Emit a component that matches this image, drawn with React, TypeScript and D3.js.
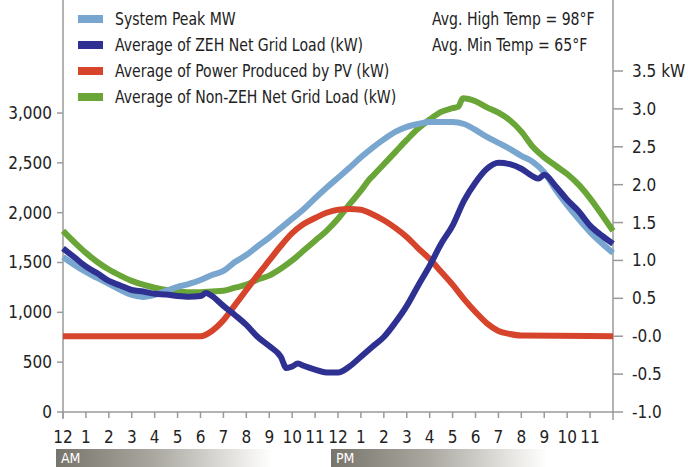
import React, { useEffect } from "react";
import * as d3 from "d3";

// hours since midnight; each series has its own sample times so kinks can be kept
const peakHours = d3.range(0, 24.01, 0.5);
const peakMW = [
  1555, 1475, 1405, 1345, 1285, 1225, 1175, 1155, 1175, 1215, 1255, 1285, 1325,
  1375, 1415, 1505, 1575, 1665, 1750, 1845, 1940, 2035, 2145, 2250, 2350, 2450,
  2555, 2650, 2735, 2810, 2860, 2890, 2910, 2910, 2910, 2890, 2830, 2760, 2700,
  2640, 2570, 2510, 2405, 2230, 2075, 1935, 1805, 1695, 1595,
];

const zehHours = [
  0, 0.5, 1, 1.5, 2, 2.5, 3, 3.5, 4, 4.5, 5, 5.5, 6, 6.25, 6.5, 7, 7.5, 8, 8.5,
  9, 9.5, 9.75, 10, 10.25, 10.5, 11, 11.5, 12, 12.5, 13, 13.5, 14, 14.5, 15,
  15.5, 16, 16.5, 17, 17.5, 18, 18.5, 19, 19.5, 20, 20.5, 20.75, 21, 21.5, 22,
  22.5, 23, 23.5, 24,
];
const zehKW = [
  1.16, 1.04, 0.92, 0.83, 0.73, 0.67, 0.61, 0.59, 0.56, 0.55, 0.53, 0.52, 0.53,
  0.57, 0.53, 0.4, 0.28, 0.15, -0.01, -0.13, -0.27, -0.42, -0.4, -0.36, -0.39,
  -0.44, -0.48, -0.48, -0.4, -0.27, -0.14, -0.01, 0.18, 0.4, 0.67, 0.93, 1.22,
  1.46, 1.79, 2.03, 2.21, 2.29, 2.27, 2.21, 2.11, 2.08, 2.13, 1.98, 1.8, 1.65,
  1.46, 1.33, 1.22,
];

const pvHours = [
  0, 6, 6.5, 7, 7.5, 8, 8.5, 9, 9.5, 10, 10.5, 11, 11.5, 12, 12.5, 13, 13.5, 14,
  14.5, 15, 15.5, 16, 16.5, 17, 17.5, 18, 18.5, 19, 19.5, 20, 24,
];
const pvKW = [
  0, 0, 0.07, 0.21, 0.41, 0.61, 0.81, 1.0, 1.19, 1.36, 1.48, 1.56, 1.63, 1.67,
  1.68, 1.67, 1.61, 1.53, 1.43, 1.31, 1.16, 1.02, 0.85, 0.68, 0.49, 0.32, 0.17,
  0.07, 0.03, 0.01, 0,
];

const nonZehHours = [
  0, 0.5, 1, 1.5, 2, 2.5, 3, 3.5, 4, 4.5, 5, 5.5, 6, 6.5, 7, 7.5, 8, 8.5, 9, 9.5,
  10, 10.5, 11, 11.5, 12, 12.5, 13, 13.4, 13.5, 14, 14.5, 15, 15.5, 16, 16.5,
  17, 17.25, 17.45, 18, 18.5, 19, 19.5, 20, 20.5, 21, 21.5, 22, 22.5, 23, 23.5,
  24,
];
const nonZehKW = [
  1.39, 1.24, 1.1, 0.98, 0.88, 0.8, 0.73, 0.68, 0.64, 0.61, 0.59, 0.58, 0.58,
  0.59, 0.6, 0.64, 0.68, 0.75, 0.8, 0.89, 1.0, 1.13, 1.26, 1.39, 1.55, 1.74,
  1.92, 2.08, 2.11, 2.27, 2.43, 2.59, 2.74, 2.86, 2.96, 3.01, 3.03, 3.14, 3.1,
  3.02, 2.95, 2.85, 2.7, 2.5, 2.36, 2.25, 2.14, 2.0, 1.82, 1.61, 1.39,
];

const legendLabels = [
  "System Peak MW",
  "Average of ZEH Net Grid Load (kW)",
  "Average of Power Produced by PV (kW)",
  "Average of Non-ZEH Net Grid Load (kW)",
];
const tempNotes = ["Avg. High Temp = 98°F", "Avg. Min Temp = 65°F"];
const leftTicks = [0, 500, 1000, 1500, 2000, 2500, 3000];
const rightTicks = [-1, -0.5, 0, 0.5, 1, 1.5, 2, 2.5, 3, 3.5];
const rightTickLabels = ["-1.0", "-0.5", "-0.0", "0.5", "1.0", "1.5", "2.0", "2.5", "3.0", "3.5 kW"];
const hourLabels = ["12", "1", "2", "3", "4", "5", "6", "7", "8", "9", "10", "11"];

const COLORS = ["#78a6cf", "#2e3192", "#d6452b", "#6aa637"];
const FONT = "'Liberation Sans Narrow', 'DejaVu Sans Condensed', 'Roboto', sans-serif";
const AXIS = "#9a9a9a";
const NARROW = 0.92; // squeeze the long labels a bit, the original face is condensed

export default function App() {
  useEffect(() => {
    document.body.style.margin = "0";
  }, []);

  const width = 688;
  const height = 467;
  const x = d3.scaleLinear().domain([0, 24]).range([63, 613]);
  const yLeft = d3.scaleLinear().domain([0, 3000]).range([412, 113]);
  const yRight = d3.scaleLinear().domain([-1, 3.5]).range([412, 71]);

  const lineFor = (hours: number[], vals: number[], y: d3.ScaleLinear<number, number>) =>
    d3
      .line<number>()
      .x((_, i) => x(hours[i]))
      .y((v) => y(v))
      .curve(d3.curveMonotoneX)(vals) || "";

  const series = [
    { d: lineFor(nonZehHours, nonZehKW, yRight), color: COLORS[3] },
    { d: lineFor(pvHours, pvKW, yRight), color: COLORS[2] },
    { d: lineFor(peakHours, peakMW, yLeft), color: COLORS[0] },
    { d: lineFor(zehHours, zehKW, yRight), color: COLORS[1] },
  ];

  const axisBottom = yLeft(0);
  const hourTicks = d3.range(0, 24);

  return (
    <svg width={width} height={height} style={{ display: "block", fontFamily: FONT }}>
      <defs>
        <linearGradient id="dayfade" x1="0" x2="1" y1="0" y2="0">
          <stop offset="0%" stopColor="#77746b" />
          <stop offset="45%" stopColor="#a9a79f" />
          <stop offset="85%" stopColor="#e9e8e5" />
          <stop offset="100%" stopColor="#ffffff" />
        </linearGradient>
      </defs>

      {/* axes */}
      <line x1={x(0)} x2={x(0)} y1={0} y2={axisBottom + 7} stroke={AXIS} strokeWidth={1.5} />
      <line x1={x(24)} x2={x(24)} y1={0} y2={axisBottom + 8} stroke={AXIS} strokeWidth={1.5} />
      <line x1={x(0)} x2={x(24)} y1={axisBottom} y2={axisBottom} stroke={AXIS} strokeWidth={1.5} />

      {leftTicks.map((t) => (
        <g key={"l" + t} transform={`translate(${x(0)},${yLeft(t)})`}>
          <line x1={-6} x2={0} stroke={AXIS} strokeWidth={1.5} />
          <text x={-11} dy="0.35em" textAnchor="end" fontSize={17} fill="#222">
            {d3.format(",")(t)}
          </text>
        </g>
      ))}

      {rightTicks.map((t, i) => (
        <g key={"r" + t} transform={`translate(${x(24)},${yRight(t)})`}>
          <line x1={0} x2={10} stroke={AXIS} strokeWidth={1.5} />
          <text x={19} dy="0.35em" fontSize={17} fill="#222">
            {rightTickLabels[i]}
          </text>
        </g>
      ))}

      {hourTicks.map((h) => (
        <g key={"h" + h} transform={`translate(${x(h)},${axisBottom})`}>
          <line y1={0} y2={6} stroke={AXIS} strokeWidth={1.5} />
          <text y={25} dy="0.35em" textAnchor="middle" fontSize={17} fill="#222">
            {hourLabels[h % 12]}
          </text>
        </g>
      ))}

      {/* AM / PM bands */}
      {["AM", "PM"].map((label, i) => (
        <g key={label} transform={`translate(${x(i * 12) - 7},449)`}>
          <rect width={216} height={18} fill="url(#dayfade)" />
          <text x={5} y={9} dy="0.38em" fontSize={14} fill="#ffffff">
            {label}
          </text>
        </g>
      ))}

      {/* series */}
      <g fill="none" strokeWidth={6} strokeLinejoin="round" strokeLinecap="butt">
        {series.map((s, i) => (
          <path key={i} d={s.d} stroke={s.color} />
        ))}
      </g>

      {/* legend */}
      {legendLabels.map((label, i) => (
        <g key={label} transform={`translate(78,${19 + i * 26})`}>
          <rect y={-4} width={25} height={8} fill={COLORS[i]} />
          <text transform={`translate(37,0) scale(${NARROW},1)`} dy="0.36em" fontSize={17} fill="#222">
            {label}
          </text>
        </g>
      ))}

      {tempNotes.map((t, i) => (
        <text
          key={t}
          transform={`translate(432,${19 + i * 26}) scale(${NARROW},1)`}
          dy="0.36em"
          fontSize={17}
          fill="#222"
        >
          {t}
        </text>
      ))}
    </svg>
  );
}
